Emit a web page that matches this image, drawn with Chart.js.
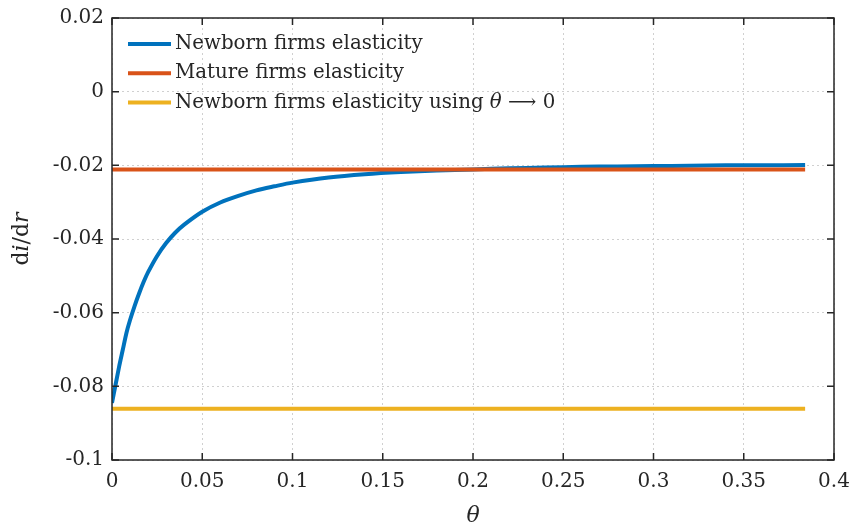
<!DOCTYPE html>
<html>
<head>
<meta charset="utf-8">
<script src="https://cdn.jsdelivr.net/npm/chart.js@4.4.0/dist/chart.umd.min.js"></script>
<style>
  html, body { margin: 0; padding: 0; background: #fff; }
  canvas { display: block; }
</style>
</head>
<body>
<canvas id="elasticity-chart" width="852" height="529"></canvas>
<script>
    "use strict";

    // theta grid and the newborn-firm elasticity
    var thetaValues = [0, 0.002, 0.004, 0.006, 0.008, 0.01, 0.0125, 0.015, 0.0175, 0.02,
        0.025, 0.03, 0.035, 0.04, 0.05, 0.06, 0.07, 0.08, 0.09, 0.1,
        0.12, 0.14, 0.16, 0.18, 0.2, 0.22, 0.24, 0.26, 0.28, 0.3,
        0.32, 0.34, 0.36, 0.384];
    var newbornElasticity = [-0.0845, -0.0795, -0.0745, -0.0700, -0.0655, -0.0620, -0.0582, -0.0548, -0.0517, -0.0490,
        -0.0446, -0.0411, -0.0383, -0.0361, -0.0326, -0.0301, -0.0283, -0.0268, -0.0257, -0.0247,
        -0.0233, -0.0224, -0.0218, -0.0214, -0.0211, -0.0208, -0.0206, -0.0204, -0.0203, -0.0202,
        -0.0201, -0.0200, -0.0200, -0.0199];

    // flat reference lines
    var flatTheta = [0, 0.384];
    var matureElasticity = [-0.0211, -0.0211];
    var limitElasticity = [-0.0861, -0.0861];

    var seriesLabels = ['Newborn firms elasticity', 'Mature firms elasticity', 'Newborn firms elasticity using θ ⟶ 0'];
    var seriesColors = ['#0072BD', '#D95319', '#EDB120'];

    var xTicks = [0, 0.05, 0.1, 0.15, 0.2, 0.25, 0.3, 0.35, 0.4];
    var xTickLabels = ['0', '0.05', '0.1', '0.15', '0.2', '0.25', '0.3', '0.35', '0.4'];
    var yTicks = [-0.1, -0.08, -0.06, -0.04, -0.02, 0, 0.02];
    var yTickLabels = ['-0.1', '-0.08', '-0.06', '-0.04', '-0.02', '0', '0.02'];

    var SERIF = '"DejaVu Serif", "Liberation Serif", serif';

    function toPoints(xs, ys) {
        return xs.map(function (x, i) { return {x: x, y: ys[i]}; });
    }

    // draw a string where θ, i and r may be italic
    function drawMixed(ctx, parts, x, y, size) {
        var total = 0;
        parts.forEach(function (p) {
            ctx.font = (p.italic ? 'italic ' : '') + size + 'px ' + SERIF;
            p.w = ctx.measureText(p.text).width;
            total += p.w;
        });
        return {total: total, draw: function (startX) {
            var cx = startX;
            parts.forEach(function (p) {
                ctx.font = (p.italic ? 'italic ' : '') + size + 'px ' + SERIF;
                ctx.fillText(p.text, cx, y);
                cx += p.w;
            });
        }};
    }

    var boxPlugin = {
        id: 'matlabBox',
        afterDatasetsDraw: function (chart) {
            var ctx = chart.ctx;
            var a = chart.chartArea;
            var xs = chart.scales.x, ys = chart.scales.y;
            var tick = 7;
            ctx.save();
            ctx.strokeStyle = '#262626';
            ctx.lineWidth = 1.5;
            ctx.strokeRect(a.left, a.top, a.right - a.left, a.bottom - a.top);
            ctx.beginPath();
            xTicks.forEach(function (v) {
                var px = xs.getPixelForValue(v);
                ctx.moveTo(px, a.bottom); ctx.lineTo(px, a.bottom - tick);
                ctx.moveTo(px, a.top); ctx.lineTo(px, a.top + tick);
            });
            yTicks.forEach(function (v) {
                var py = ys.getPixelForValue(v);
                ctx.moveTo(a.left, py); ctx.lineTo(a.left + tick, py);
                ctx.moveTo(a.right, py); ctx.lineTo(a.right - tick, py);
            });
            ctx.stroke();

            // legend, inside the axes, no frame
            ctx.fillStyle = '#262626';
            ctx.textBaseline = 'middle';
            ctx.textAlign = 'left';
            chart.data.datasets.forEach(function (ds, i) {
                var ry = a.top + 26 + i * 29.2;
                ctx.strokeStyle = ds.borderColor;
                ctx.lineWidth = 4;
                ctx.beginPath();
                ctx.moveTo(a.left + 16, ry);
                ctx.lineTo(a.left + 59, ry);
                ctx.stroke();
                var bits = ds.label.split('θ');
                var parts = [{text: bits[0]}];
                if (bits.length > 1) {
                    parts.push({text: 'θ', italic: true});
                    parts.push({text: bits[1]});
                }
                drawMixed(ctx, parts, 0, ry, 19.8).draw(a.left + 63);
            });

            // axis titles
            ctx.textBaseline = 'alphabetic';
            var xt = drawMixed(ctx, [{text: 'θ', italic: true}], 0, 522, 22);
            xt.draw((a.left + a.right) / 2 - xt.total / 2);

            ctx.translate(28, (a.top + a.bottom) / 2);
            ctx.rotate(-Math.PI / 2);
            var yt = drawMixed(ctx, [{text: 'd'}, {text: 'i', italic: true}, {text: '/d'}, {text: 'r', italic: true}], 0, 0, 22);
            yt.draw(-yt.total / 2);
            ctx.restore();
        }
    };

    var gridOpts = {
        color: '#d0d0d0',
        lineWidth: 1,
        drawTicks: false
    };

    new Chart(document.getElementById('elasticity-chart').getContext('2d'), {
        type: 'scatter',
        data: {
            datasets: [{
                label: seriesLabels[0],
                data: toPoints(thetaValues, newbornElasticity),
                borderColor: seriesColors[0],
                order: 3
            }, {
                label: seriesLabels[1],
                data: toPoints(flatTheta, matureElasticity),
                borderColor: seriesColors[1],
                order: 2
            }, {
                label: seriesLabels[2],
                data: toPoints(flatTheta, limitElasticity),
                borderColor: seriesColors[2],
                order: 1
            }]
        },
        options: {
            responsive: false,
            animation: false,
            showLine: true,
            elements: {
                point: {radius: 0},
                line: {borderWidth: 4, tension: 0.3, fill: false}
            },
            layout: {padding: {top: 18, right: 18, left: 0, bottom: 0}},
            plugins: {
                legend: {display: false},
                tooltip: {enabled: false}
            },
            scales: {
                x: {
                    type: 'linear',
                    min: 0,
                    max: 0.4,
                    afterBuildTicks: function (scale) {
                        scale.ticks = xTicks.map(function (v) { return {value: v}; });
                    },
                    afterFit: function (scale) {
                        scale.height = 69;
                        scale.paddingLeft = 0;
                        scale.paddingRight = 0;
                    },
                    grid: Object.assign({}, gridOpts, {borderDash: [2, 3]}),
                    border: {display: false, dash: [2, 3]},
                    ticks: {
                        padding: 10,
                        color: '#262626',
                        font: {family: SERIF, size: 20},
                        maxRotation: 0,
                        callback: function (v, i) { return xTickLabels[i]; }
                    }
                },
                y: {
                    type: 'linear',
                    min: -0.1,
                    max: 0.02,
                    afterBuildTicks: function (scale) {
                        scale.ticks = yTicks.map(function (v) { return {value: v}; });
                    },
                    afterFit: function (scale) {
                        scale.width = 112;
                        scale.paddingTop = 0;
                        scale.paddingBottom = 0;
                    },
                    grid: Object.assign({}, gridOpts),
                    border: {display: false, dash: [2, 3]},
                    ticks: {
                        padding: 8,
                        color: '#262626',
                        font: {family: SERIF, size: 20},
                        callback: function (v, i) { return yTickLabels[i]; }
                    }
                }
            }
        },
        plugins: [boxPlugin]
    });
</script>
</body>
</html>
